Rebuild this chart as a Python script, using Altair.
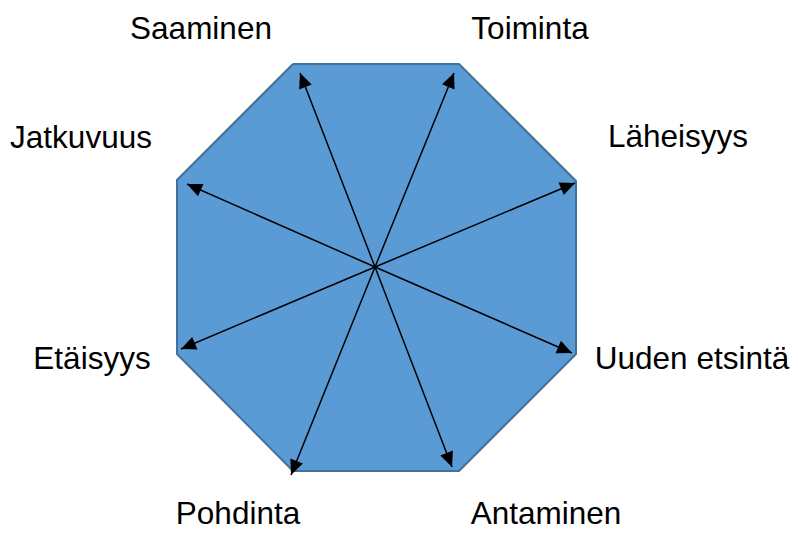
import math
import altair as alt
import pandas as pd

# ---- values (page pixel space, y downward) ----
labels = ["Saaminen", "Toiminta", "Läheisyys", "Uuden etsintä",
          "Antaminen", "Pohdinta", "Etäisyys", "Jatkuvuus"]
label_x = [201, 530, 678, 692, 546, 238, 92, 81]
label_y = [38.5, 38.5, 147, 369, 524, 524, 369, 148]

tip_x = [300, 454, 575, 572, 452, 291, 181, 187]
tip_y = [73, 73, 183, 353, 467, 475, 349, 184]

center_x = 375
center_y = 267

oct_x = [293, 459, 576, 576, 459, 293, 177, 177]
oct_y = [64, 64, 181, 354, 471, 471, 354, 180]

# ---- tables ----
poly = pd.DataFrame({
    "x": oct_x + [oct_x[0]],
    "y": oct_y + [oct_y[0]],
    "i": list(range(len(oct_x) + 1)),
})

arrows = pd.DataFrame({
    "label": labels,
    "x": [center_x] * len(tip_x),
    "y": [center_y] * len(tip_y),
    "x2": tip_x,
    "y2": tip_y,
})
arrows["ang"] = [
    (math.degrees(math.atan2(tx - center_x, -(ty - center_y))) + 360) % 360
    for tx, ty in zip(tip_x, tip_y)
]

texts = pd.DataFrame({"label": labels, "x": label_x, "y": label_y})

W, H = 782, 523
xs = alt.Scale(domain=[8, 8 + W], nice=False, zero=False)
ys = alt.Scale(domain=[8, 8 + H], nice=False, zero=False, reverse=True)

base_x = lambda f="x": alt.X(f"{f}:Q", scale=xs, axis=None)
base_y = lambda f="y": alt.Y(f"{f}:Q", scale=ys, axis=None)

octagon = alt.Chart(poly).mark_line(
    fill="#5B9BD5", stroke="#41719C", strokeWidth=2, strokeJoin="miter"
).encode(
    x=base_x(), y=base_y(), order=alt.Order("i:Q")
)

lines = alt.Chart(arrows).mark_rule(color="black", strokeWidth=1.5).encode(
    x=base_x(), y=base_y(), x2="x2:Q", y2="y2:Q"
)

heads = alt.Chart(arrows).mark_point(
    shape="M0,0 L-0.45,1 L0.45,1 Z", filled=True, color="black",
    opacity=1, size=900, strokeWidth=0
).encode(
    x=base_x("x2"), y=base_y("y2"),
    angle=alt.Angle("ang:Q", scale=None)
)

text = alt.Chart(texts).mark_text(
    font="Liberation Sans", fontSize=31.5, color="black",
    align="center", baseline="alphabetic"
).encode(
    x=base_x(), y=base_y(), text="label:N"
)

chart = alt.layer(octagon, lines, heads, text).properties(
    width=W, height=H, padding=0, autosize=alt.AutoSizeParams(type="none")
).configure_view(stroke=None)

chart.save("out.html", embed_options={"renderer": "svg", "actions": False})
